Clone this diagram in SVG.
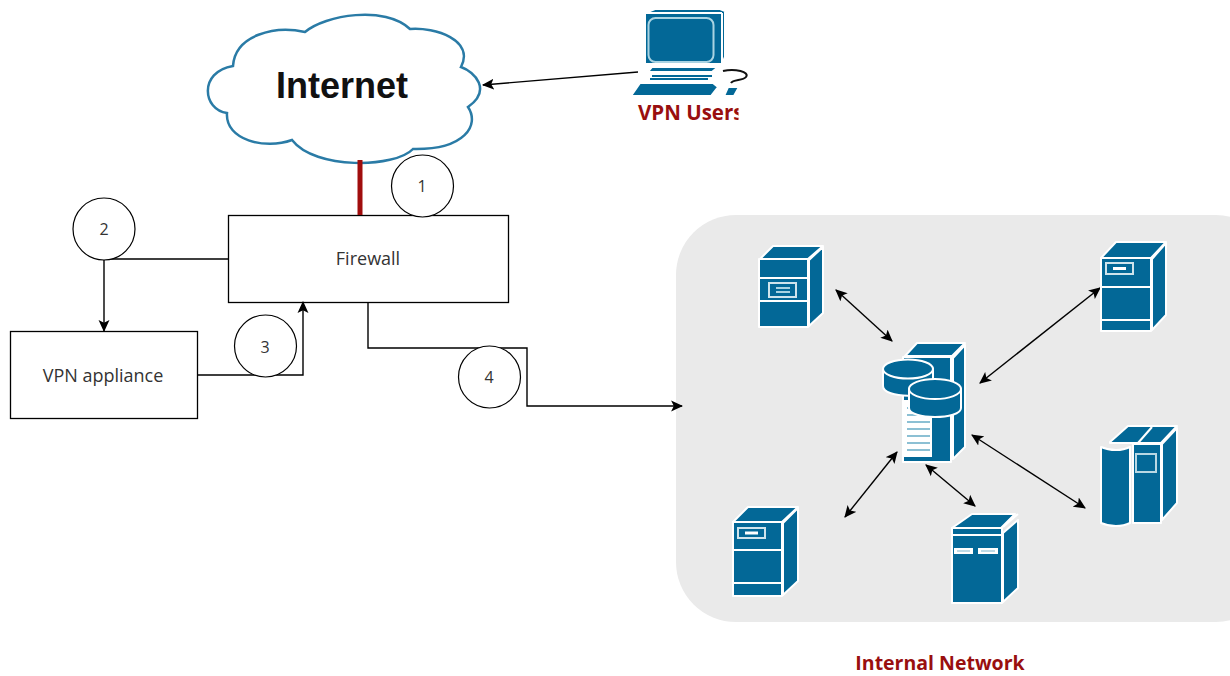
<svg xmlns="http://www.w3.org/2000/svg" width="1230" height="676" viewBox="0 0 1230 676">
<style>
.ic{fill:#036897;stroke:#fff;stroke-width:2;stroke-linejoin:round}
.wl{fill:none;stroke:#fff;stroke-width:2}
.wf{fill:#fff}
.lb{fill:#a9d3e2;stroke:none}
.box{fill:#fff;stroke:#000;stroke-width:1.3}
.c{fill:#fff;stroke:#000;stroke-width:1.2}
.ln{fill:none;stroke:#000;stroke-width:1.4}
.t{font-family:"Open Sans","Liberation Sans",sans-serif;font-size:18px;fill:#333;text-anchor:middle}
.n{font-family:"Open Sans","Liberation Sans",sans-serif;font-size:16px;fill:#333;text-anchor:middle}
.r{font-family:"Open Sans","Liberation Sans",sans-serif;font-weight:700;font-size:19.500px;fill:#990f0f}
</style>
<defs>
<marker id="a" markerWidth="12" markerHeight="12" refX="10" refY="5" orient="auto-start-reverse" markerUnits="userSpaceOnUse" viewBox="0 0 11 10"><path d="M0 0L11 5L0 10L2.5 5Z" fill="#000"/></marker>
<clipPath id="u"><rect x="620" y="100" width="118.500" height="30"/></clipPath>
</defs>
<rect id="network-bg" x="676" y="215" width="600" height="407" rx="60" fill="#eaeaea"/>
<g id="internet">
<path d="M305 32C325 15 385 5 410 29C435 27 475 40 461 67C475 72 492 90 468 107C480 125 465 150 413 149C395 168 315 170 292 140C265 150 225 140 227 113C203 110 198 72 233 66C235 35 275 25 305 32Z" fill="#fff" stroke="#2a7ba6" stroke-width="2.500"/>
<text x="342" y="98" font-family="Liberation Sans,Arial,sans-serif" font-weight="700" font-size="36" fill="#111" text-anchor="middle">Internet</text>
</g>
<g id="vpn-users">
<path class="ic" d="M645 13L655 9H720L725 11V57L722 64H645Z"/>
<path class="wl" d="M722 13V64M645 13H722"/>
<rect x="648.500" y="18" width="65" height="44" rx="7" fill="#036897" stroke="#a9d3e2" stroke-width="2"/>
<path class="ic" d="M648 72L652 67H718L712 72Z" stroke-width="1"/>
<path d="M652 76H712M650 79H708" stroke="#036897" stroke-width="2"/>
<path class="ic" d="M631 96L640 83H713L718 87L711 96Z" stroke-width="1"/>
<path class="ic" d="M728 87H739L734 96H724Z" stroke-width="1"/>
<path d="M723 71C735 68 750 72 746 77C743 81 733 79 731 83" fill="none" stroke="#111" stroke-width="2"/>
<text class="r" x="638" y="120" clip-path="url(#u)" style="font-size:20.500px">VPN Users</text>
</g>
<g id="firewall"><rect class="box" x="228.500" y="215.500" width="280" height="87"/><text class="t" x="368" y="265">Firewall</text></g>
<g id="vpn-appliance"><rect class="box" x="10.500" y="331.500" width="187" height="87"/><text class="t" x="103" y="382">VPN appliance</text></g>
<g id="connectors">
<path d="M360 160V215" stroke="#a00d0d" stroke-width="5" fill="none"/>
<path class="ln" d="M638 72L483 85" marker-end="url(#a)"/>
<path class="ln" d="M228 259H104V331" marker-end="url(#a)"/>
<path class="ln" d="M197 375H303V302" marker-end="url(#a)"/>
<path class="ln" d="M368 302V348H527V406H682" marker-end="url(#a)"/>
<path class="ln" d="M836 290L892 341" marker-start="url(#a)" marker-end="url(#a)"/>
<path class="ln" d="M980 383L1100 288" marker-start="url(#a)" marker-end="url(#a)"/>
<path class="ln" d="M972 435L1085 508" marker-start="url(#a)" marker-end="url(#a)"/>
<path class="ln" d="M926 465L975 506" marker-start="url(#a)" marker-end="url(#a)"/>
<path class="ln" d="M897 452L845 517" marker-start="url(#a)" marker-end="url(#a)"/>
</g>
<g id="step-1"><circle class="c" cx="422.500" cy="186" r="31"/><text class="n" x="422" y="192">1</text></g>
<g id="step-2"><circle class="c" cx="104" cy="229" r="31"/><text class="n" x="104" y="235">2</text></g>
<g id="step-3"><circle class="c" cx="265.500" cy="346" r="31"/><text class="n" x="265" y="353">3</text></g>
<g id="step-4"><circle class="c" cx="489.500" cy="377" r="31"/><text class="n" x="489" y="383">4</text></g>
<g id="server-1">
<path class="ic" d="M760 259L773 246H823L808 259Z"/><path class="ic" d="M809 260L823 247V313L809 326Z"/><rect class="ic" x="759" y="259" width="49" height="68"/>
<path class="wl" d="M759 278H808M759 301H808"/><rect x="769" y="283" width="27" height="14" fill="#036897" stroke="#cfe4ec" stroke-width="2"/><path class="lb" d="M776 287H790V289H776ZM776 291H790V293H776Z"/>
</g>
<g id="server-2">
<path class="ic" d="M1101 258L1116 242H1166L1151 258Z"/><path class="ic" d="M1152 259L1166 243V315L1152 330Z"/><rect class="ic" x="1101" y="258" width="50" height="73"/>
<path class="wl" d="M1101 287H1151M1101 320H1151"/><rect x="1106" y="263" width="27" height="11" fill="#036897" stroke="#cfe4ec" stroke-width="2"/><rect class="wf" x="1113" y="267" width="13" height="3"/>
</g>
<g id="server-3">
<path class="ic" d="M1110 442L1128 426H1177L1161 443H1110Z"/><path class="wl" d="M1138 443L1152 427"/>
<path class="ic" d="M1162 444L1177 428V503L1162 520Z"/>
<rect class="ic" x="1133" y="444" width="28" height="79"/>
<rect x="1136" y="454" width="20" height="18" fill="#036897" stroke="#b9d8e4" stroke-width="2"/>
<path class="ic" d="M1101 447C1110 451 1122 451 1130 447V523C1122 527 1110 527 1101 523Z"/>
</g>
<g id="server-4">
<path class="ic" d="M733 522L748 507H798L782 522Z"/><path class="ic" d="M783 523L798 508V581L783 595Z"/><rect class="ic" x="733" y="522" width="49" height="74"/>
<path class="wl" d="M733 550H782M733 583H782"/><rect x="738" y="528" width="27" height="10" fill="#036897" stroke="#cfe4ec" stroke-width="2"/><rect class="wf" x="745" y="531.500" width="13" height="3"/>
</g>
<g id="server-5">
<path class="ic" d="M952 528L972 514H1015L1001 528Z"/><path class="ic" d="M1003 533L1018 520V588L1003 602Z"/><rect class="ic" x="952" y="528" width="50" height="75"/>
<path class="wl" d="M952 535H1002M1003 527L1018 514"/><rect class="wf" x="954" y="548" width="19" height="6"/><rect class="wf" x="978" y="548" width="20" height="6"/><path d="M957 551H970M981 551H995" stroke="#7db5cc" stroke-width="1"/>
</g>
<g id="database-server">
<path class="ic" d="M905 356L917 343H965L952 356Z"/><path class="ic" d="M953 358L965 345V447L953 459Z"/><rect class="ic" x="903" y="357" width="48" height="105"/>
<rect class="wf" x="903" y="400" width="29" height="57"/>
<path d="M907 408H930M907 415H930M907 422H930M907 429H930M907 436H930M907 443H930M907 450H930" stroke="#8cc0d4" stroke-width="2"/>
<path class="ic" d="M883 369V386C883 399 933 399 933 386V369Z"/><ellipse class="ic" cx="908" cy="369" rx="25" ry="9.500"/>
<path class="ic" d="M909 389V408C909 420 961 420 961 408V389Z"/><ellipse class="ic" cx="935" cy="389" rx="26" ry="10"/>
</g>
<text id="internal-network-label" class="r" x="940" y="670" text-anchor="middle">Internal Network</text>
</svg>
